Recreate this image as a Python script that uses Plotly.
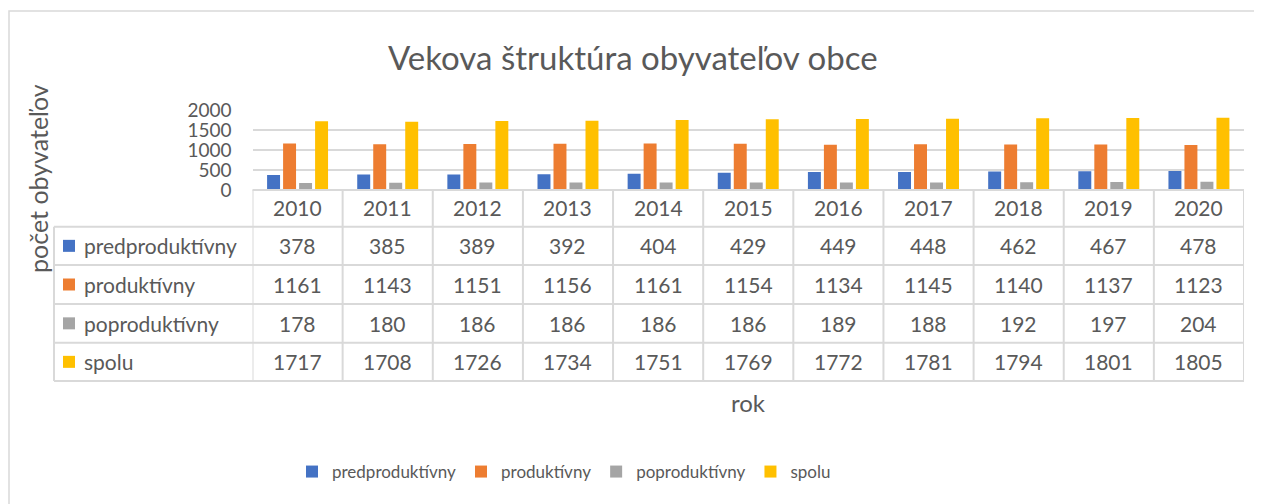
import plotly.graph_objects as go

years = ["2010", "2011", "2012", "2013", "2014", "2015", "2016", "2017", "2018", "2019", "2020"]
predproduktivny = [378, 385, 389, 392, 404, 429, 449, 448, 462, 467, 478]
produktivny = [1161, 1143, 1151, 1156, 1161, 1154, 1134, 1145, 1140, 1137, 1123]
poproduktivny = [178, 180, 186, 186, 186, 186, 189, 188, 192, 197, 204]
spolu = [1717, 1708, 1726, 1734, 1751, 1769, 1772, 1781, 1794, 1801, 1805]

series_names = ["predproduktívny", "produktívny", "poproduktívny", "spolu"]
series_values = [predproduktivny, produktivny, poproduktivny, spolu]
colors = ["#4472C4", "#ED7D31", "#A5A5A5", "#FFC000"]

W, H = 1262, 504
OFF = 8  # page body margin compensation
FONT = "Lato"
TXT = "#595959"
GRID = "#D9D9D9"


def py(pix):
    return 1 - (pix - OFF) / H


def px(pix):
    return (pix - OFF) / W


fig = go.Figure()
for name, vals, col in zip(series_names, series_values, colors):
    fig.add_trace(go.Bar(x=list(range(len(years))), y=vals, name=name,
                         marker=dict(color=col, line=dict(width=0))))

plot_left, plot_right = 252.5, 1244
y_top, y_zero = 110, 190

annotations = []
shapes = []

# title
annotations.append(dict(text="Vekova štruktúra obyvateľov obce", x=px(633), y=py(57), xref="paper", yref="paper",
                        showarrow=False, font=dict(family=FONT, size=33, color=TXT), xanchor="center", yanchor="middle"))
# y-axis title
annotations.append(dict(text="počet obyvateľov", x=px(38), y=py(179), xref="paper", yref="paper", textangle=-90,
                        showarrow=False, font=dict(family=FONT, size=25, color=TXT), xanchor="center", yanchor="middle"))
# x-axis title
annotations.append(dict(text="rok", x=px(748), y=py(402), xref="paper", yref="paper",
                        showarrow=False, font=dict(family=FONT, size=24, color=TXT), xanchor="center", yanchor="middle"))

# data table
TF = 21
header_c = 208
row_lines = [226.7, 265, 304, 342.7, 381]
row_centers = [(row_lines[i] + row_lines[i + 1]) / 2 for i in range(4)]

for i, yr in enumerate(years):
    annotations.append(dict(text=yr, x=i, y=py(header_c), xref="x", yref="paper", showarrow=False,
                            font=dict(family=FONT, size=TF, color=TXT), xanchor="center", yanchor="middle"))
for r, (name, vals, col) in enumerate(zip(series_names, series_values, colors)):
    yc = row_centers[r]
    annotations.append(dict(text=name, x=px(82), y=py(yc), xref="paper", yref="paper", showarrow=False,
                            font=dict(family=FONT, size=TF, color=TXT), xanchor="left", yanchor="middle"))
    shapes.append(dict(type="rect", xref="paper", yref="paper", x0=px(63), x1=px(75), y0=py(yc - 6), y1=py(yc + 6),
                       fillcolor=col, line=dict(width=0)))
    for i, v in enumerate(vals):
        annotations.append(dict(text=str(v), x=i, y=py(yc), xref="x", yref="paper", showarrow=False,
                                font=dict(family=FONT, size=TF, color=TXT), xanchor="center", yanchor="middle"))

# table lines
shapes.append(dict(type="line", xref="paper", yref="paper", x0=px(plot_left), x1=px(plot_right),
                   y0=py(y_zero), y1=py(y_zero), line=dict(color=GRID, width=2)))
for yl in row_lines:
    shapes.append(dict(type="line", xref="paper", yref="paper", x0=px(54), x1=px(plot_right), y0=py(yl), y1=py(yl),
                       line=dict(color=GRID, width=2)))
shapes.append(dict(type="line", xref="paper", yref="paper", x0=px(54), x1=px(54), y0=py(row_lines[0]),
                   y1=py(row_lines[-1]), line=dict(color=GRID, width=2)))
for k in range(len(years) + 1):
    shapes.append(dict(type="line", xref="x", yref="paper", x0=k - 0.5, x1=k - 0.5, y0=py(y_zero),
                       y1=py(row_lines[-1]), line=dict(color=GRID, width=2)))

# chart border (top and left visible)
shapes.append(dict(type="rect", xref="paper", yref="paper", x0=px(9), x1=px(1290), y0=py(11), y1=py(540),
                   line=dict(color=GRID, width=1.5), fillcolor="rgba(0,0,0,0)"))

fig.update_layout(
    template="none",
    width=W, height=H,
    margin=dict(l=0, r=0, t=0, b=0, pad=0, autoexpand=False),
    paper_bgcolor="white", plot_bgcolor="white",
    barmode="group", bargap=0.29, bargroupgap=0.19,
    font=dict(family=FONT, color=TXT),
    xaxis=dict(domain=[px(plot_left), px(plot_right)], showticklabels=False, showgrid=False, zeroline=False,
               showline=False, ticks="", range=[-0.5, len(years) - 0.5], automargin=False),
    yaxis=dict(domain=[py(y_zero), py(y_top)], range=[0, 2000], tickvals=[0, 500, 1000, 1500, 2000],
               showgrid=True, gridcolor=GRID, gridwidth=2, zeroline=False, showline=False, ticks="",
               tickfont=dict(family=FONT, size=19, color=TXT), ticklabelstandoff=20, automargin=False),
    legend=dict(orientation="h", x=px(292), y=py(472), xanchor="left", yanchor="middle",
                font=dict(family=FONT, size=17, color=TXT), traceorder="normal", itemwidth=30,
                bgcolor="rgba(0,0,0,0)"),
    annotations=annotations,
    shapes=shapes,
)

fig.write_html("out.html")
